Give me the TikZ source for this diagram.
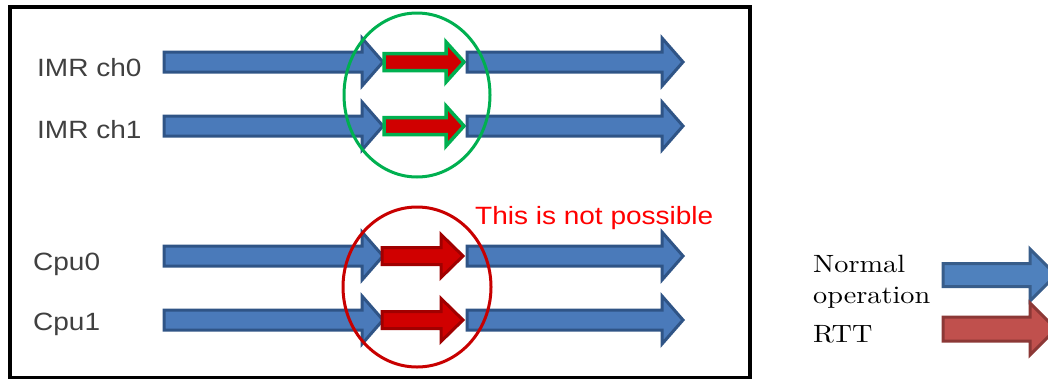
\documentclass[tikz,border=0pt]{standalone}
\usepackage{fontspec}
\newfontfamily\labelfont[FakeStretch=1.12]{Liberation Sans}
\newfontfamily\legendfont[Extension=.otf, FakeStretch=1.13]{lmroman10-regular}
\usepackage{tikz}
\usetikzlibrary{positioning}
\usepackage{xcolor}
\definecolor{ShaftBlue}{RGB}{74,122,186}
\definecolor{EdgeBlue}{RGB}{47,84,134}
\definecolor{RttRed}{RGB}{208,0,0}
\definecolor{EdgeRed}{RGB}{160,0,0}
\definecolor{OkGreen}{RGB}{0,176,80}
\definecolor{NoRed}{RGB}{200,0,0}
\definecolor{LabelGray}{RGB}{64,64,64}
\definecolor{KeyBlue}{RGB}{79,129,189}
\definecolor{KeyBlueEdge}{RGB}{56,93,138}
\definecolor{KeyRed}{RGB}{192,80,77}
\definecolor{KeyRedEdge}{RGB}{140,56,54}

% [style]{x from}{x to}{y}{half shaft}{half head}{head length}
\newcommand{\rowarrow}[7][]{%
  \draw[#1] (#2,#4-#5) -- (#3-#7,#4-#5) -- (#3-#7,#4-#6) -- (#3,#4)
    -- (#3-#7,#4+#6) -- (#3-#7,#4+#5) -- (#2,#4+#5) -- cycle;}

\begin{document}
\begin{tikzpicture}[
    x=1pt, y=-1pt,
    line join=miter,
    chlabel/.style={font=\labelfont\fontsize{25}{30}\selectfont, text=LabelGray, anchor=base west, inner sep=0pt},
    keylabel/.style={font=\legendfont\fontsize{25}{30}\selectfont, anchor=base west, inner sep=0pt},
    normalarrow/.style={fill=ShaftBlue, draw=EdgeBlue, line width=3pt},
    rttarrow/.style={fill=RttRed, draw=OkGreen, line width=3.5pt},
    blockedarrow/.style={fill=RttRed, draw=EdgeRed, line width=3pt},
    keynormal/.style={fill=KeyBlue, draw=KeyBlueEdge, line width=3pt},
    keyrtt/.style={fill=KeyRed, draw=KeyRedEdge, line width=3pt},
]
\useasboundingbox (0,0) rectangle (1048,378);

% frame
\draw[line width=4pt] (10,7) rectangle (750,377.5);

% channel names
\node[chlabel] (imr0) at (37,76) {IMR ch0};
\node[chlabel] (imr1) at (37,138) {IMR ch1};
\node[chlabel] (cpu0) at (33,270) {Cpu0};
\node[chlabel] (cpu1) at (33,330) {Cpu1};

% timelines
\foreach \y in {62,126} {
  \rowarrow[normalarrow]{164}{383}{\y}{10}{24}{21}
  \rowarrow[rttarrow]{384}{464}{\y}{8.5}{20}{18}
  \rowarrow[normalarrow]{467}{683}{\y}{10}{24}{21}
}
\foreach \y in {256,320} {
  \rowarrow[normalarrow]{164}{383}{\y}{10}{24}{21}
  \rowarrow[blockedarrow]{382}{463}{\y}{8.5}{21.5}{22}
  \rowarrow[normalarrow]{467}{683}{\y}{10}{24}{21}
}

% rings
\draw[OkGreen, line width=3pt] (417,95) ellipse [x radius=73, y radius=82];
\draw[NoRed, line width=3pt] (417,287) ellipse [x radius=74, y radius=80];
\node[chlabel, text=red] (nogo) at (475,224) {This is not possible};

% legend
\node[keylabel] (knormal) at (813,272) {Normal};
\node[keylabel] (kop) at (813,303) {operation};
\node[keylabel] (krtt) at (813,342) {RTT};
\rowarrow[keynormal]{943}{1056}{275}{11.5}{26}{26}
\rowarrow[keyrtt]{943}{1056}{329}{12}{26}{26}
\end{tikzpicture}
\end{document}
